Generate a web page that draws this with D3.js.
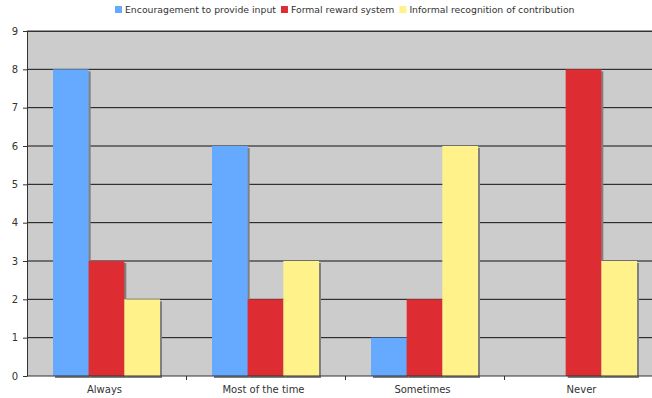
<!DOCTYPE html>
<html>
<head>
<meta charset="utf-8">
<script src="https://cdn.jsdelivr.net/npm/d3@7"></script>
<style>
  html, body { margin: 0; padding: 0; background: #fff; }
  svg { display: block; font-family: "DejaVu Sans", Verdana, sans-serif; }
</style>
</head>
<body>
<svg id="chart" width="652" height="398"></svg>
<script>
// Responses per category for each recognition type
const categories = ["Always", "Most of the time", "Sometimes", "Never"];
const seriesNames = ["Encouragement to provide input", "Formal reward system", "Informal recognition of contribution"];
const encouragement = [8, 6, 1, 0];
const formalReward = [3, 2, 2, 8];
const informalRecognition = [2, 3, 6, 3];
const yTicks = [0, 1, 2, 3, 4, 5, 6, 7, 8, 9];
const seriesColors = ["#66aaff", "#dd2d33", "#fff28a"];

const seriesValues = [encouragement, formalReward, informalRecognition];

const svg = d3.select("#chart");
// the plot runs slightly past the right edge of the canvas
const margin = { top: 31, right: -11, bottom: 22, left: 27 };
const W = 652, H = 398;
const innerW = W - margin.left - margin.right;
const innerH = H - margin.top - margin.bottom;

const x0 = d3.scaleBand().domain(categories).range([0, innerW]).paddingInner(0).paddingOuter(0);
const x1 = d3.scaleBand().domain(d3.range(seriesNames.length))
  .range([x0.bandwidth() * 0.1635, x0.bandwidth() * 0.8365]);
const y = d3.scaleLinear().domain([0, 9]).range([innerH, 0]);

const g = svg.append("g").attr("transform", `translate(${margin.left},${margin.top})`);

// plot background
g.append("rect").attr("x", 0).attr("y", 0).attr("width", innerW).attr("height", innerH)
  .attr("fill", "#cccccc");

// horizontal gridlines
g.append("g").selectAll("line").data(yTicks.filter(d => d > 0)).join("line")
  .attr("x1", 0).attr("x2", innerW)
  .attr("y1", d => y(d)).attr("y2", d => y(d))
  .attr("stroke", d => d === 9 ? "#333" : "#111").attr("stroke-width", 1);

// bars with drop shadow
const groups = g.append("g").selectAll("g").data(categories).join("g")
  .attr("transform", d => `translate(${x0(d)},0)`);

const barData = (c, ci) => seriesValues.map((vals, si) => ({ si, v: vals[ci] }));

groups.each(function (c, ci) {
  const grp = d3.select(this);
  const data = barData(c, ci).filter(d => d.v > 0);
  grp.selectAll("rect.shadow").data(data).join("rect").attr("class", "shadow")
    .attr("x", d => x1(d.si) + 2).attr("y", d => y(d.v) + 2)
    .attr("width", x1.bandwidth()).attr("height", d => innerH - y(d.v))
    .attr("fill", "#808080");
  grp.selectAll("rect.bar").data(data).join("rect").attr("class", "bar")
    .attr("x", d => x1(d.si)).attr("y", d => y(d.v))
    .attr("width", x1.bandwidth()).attr("height", d => innerH - y(d.v))
    .attr("fill", d => seriesColors[d.si]);
});

// y axis
const yAxis = g.append("g")
  .call(d3.axisLeft(y).tickValues(yTicks).tickSize(4).tickSizeOuter(0).tickPadding(5));
yAxis.select(".domain").attr("stroke", "#333");
yAxis.selectAll(".tick line").attr("stroke", "#333");
yAxis.selectAll(".tick text").attr("fill", "#333").style("font-size", "10px")
  .style("font-family", "'DejaVu Sans', Verdana, sans-serif");

// x axis with ticks at category boundaries
const xAxisG = g.append("g").attr("transform", `translate(0,${innerH})`);
xAxisG.append("line").attr("x1", 0).attr("x2", innerW).attr("y1", 0).attr("y2", 0)
  .attr("stroke", "#333");
xAxisG.selectAll("line.tick").data(categories.slice(1)).join("line").attr("class", "tick")
  .attr("x1", d => Math.round(x0(d)) + 0.5).attr("x2", d => Math.round(x0(d)) + 0.5)
  .attr("y1", 0).attr("y2", 4).attr("stroke", "#333");
xAxisG.selectAll("text").data(categories).join("text")
  .attr("x", d => x0(d) + x0.bandwidth() / 2 - 2).attr("y", 17)
  .attr("text-anchor", "middle").attr("fill", "#333").style("font-size", "10px")
  .text(d => d);

// top border of the plot
g.append("line").attr("x1", 0).attr("x2", innerW).attr("y1", 0.5).attr("y2", 0.5)
  .attr("stroke", "#333");

// legend
const legend = svg.append("g").attr("transform", "translate(0,0)");
let lx = 115;
seriesNames.forEach((name, i) => {
  legend.append("rect").attr("x", lx).attr("y", 6).attr("width", 7).attr("height", 7)
    .attr("fill", seriesColors[i]);
  const t = legend.append("text").attr("x", lx + 10).attr("y", 13)
    .attr("fill", "#333").style("font-size", "9.3px").text(name);
  lx += 10 + t.node().getComputedTextLength() + 5;
});
</script>
</body>
</html>
